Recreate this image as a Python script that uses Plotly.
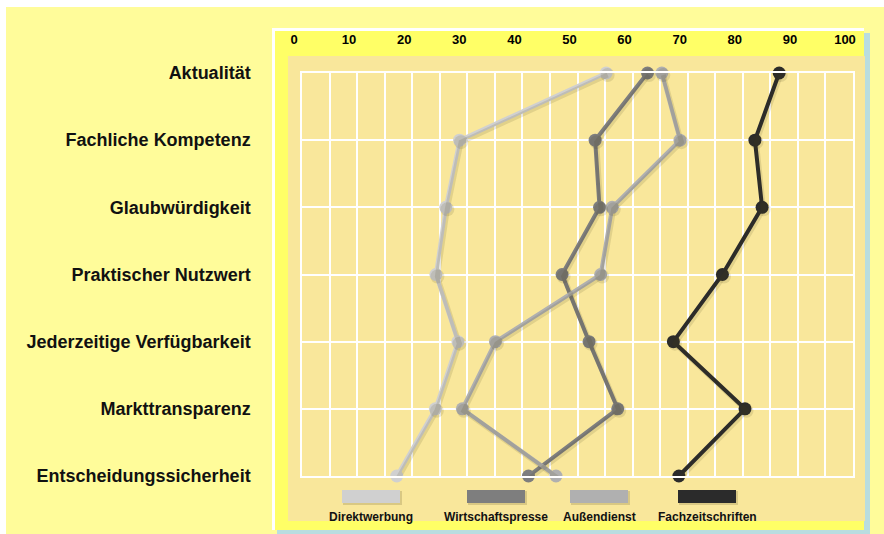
import plotly.graph_objects as go

# Survey categories (top to bottom) and ratings per information channel
categories = [
    "Aktualität",
    "Fachliche Kompetenz",
    "Glaubwürdigkeit",
    "Praktischer Nutzwert",
    "Jederzeitige Verfügbarkeit",
    "Markttransparenz",
    "Entscheidungssicherheit",
]
series_names = ["Direktwerbung", "Wirtschaftspresse", "Außendienst", "Fachzeitschriften"]
direktwerbung = [55.2, 28.6, 26.1, 24.3, 28.3, 24.2, 17.2]
wirtschaftspresse = [62.7, 53.2, 54.0, 47.2, 52.1, 57.3, 41.1]
aussendienst = [65.3, 68.6, 56.3, 54.2, 35.1, 29.1, 46.1]
fachzeitschriften = [86.6, 82.2, 83.5, 76.3, 67.4, 80.4, 68.4]
series_values = [direktwerbung, wirtschaftspresse, aussendienst, fachzeitschriften]
x_ticks = list(range(0, 101, 10))

line_colors = ["#d0d0d0", "#7e7e7e", "#b0b0b0", "#2b2b2b"]

W, H = 884, 534
ML, MR, MT, MB = 302, 31, 73, 58
PW, PH = W - ML - MR, H - MT - MB
FONT = "Liberation Sans, Arial, sans-serif"


def fx(px):
    return (px - ML) / PW


def fy(py):
    return (H - MB - py) / PH


fig = go.Figure()

# soft drop shadow: same data drawn on an overlay axis pair shifted slightly
sx = 1.5 * 100 / PW
sy = 2.0 * 6 / PH
for vals in series_values:
    fig.add_trace(go.Scatter(
        x=vals, y=categories, xaxis="x2", yaxis="y2",
        mode="lines+markers",
        line=dict(color="rgba(70,60,20,0.13)", width=5),
        marker=dict(size=14, color="rgba(70,60,20,0.13)"),
        cliponaxis=False, hoverinfo="skip", showlegend=False,
    ))

for name, vals, col in zip(series_names, series_values, line_colors):
    fig.add_trace(go.Scatter(
        x=vals, y=categories, name=name,
        mode="lines+markers",
        line=dict(color=col, width=4),
        marker=dict(size=13, color=col),
        cliponaxis=False, showlegend=False,
    ))

shapes = []


def rect(x0, y0, x1, y1, color):
    shapes.append(dict(type="rect", xref="paper", yref="paper", layer="below",
                       x0=fx(x0), x1=fx(x1), y0=fy(y1), y1=fy(y0),
                       fillcolor=color, line=dict(width=0)))


# page frame and chart panel
rect(0, 0, W, 7, "#ffffff")
rect(0, 0, 6, H, "#ffffff")
rect(277, 33, 870, H, "#b9dde0")
rect(272, 28, 864, 530, "#ffffff")
rect(275, 31, 864, 530, "#ffff66")
rect(288, 56, 865, 521, "#f9e79b")

# legend swatches with labels underneath
legend_centers = [371, 496, 599, 707]
annotations = []
for name, col, cx in zip(series_names, line_colors, legend_centers):
    shapes.append(dict(type="rect", xref="paper", yref="paper", layer="above",
                       x0=fx(cx - 28), x1=fx(cx + 31), y0=fy(505), y1=fy(491),
                       fillcolor="rgba(70,60,20,0.18)", line=dict(width=0)))
    shapes.append(dict(type="rect", xref="paper", yref="paper", layer="above",
                       x0=fx(cx - 29), x1=fx(cx + 29), y0=fy(503), y1=fy(490),
                       fillcolor=col, line=dict(width=0)))
    annotations.append(dict(text=name, xref="paper", yref="paper",
                            x=fx(cx), y=fy(517), showarrow=False,
                            xanchor="center", yanchor="middle",
                            font=dict(family=FONT, size=12, color="#111111",
                                      weight="bold")))

fig.update_layout(
    width=W, height=H,
    margin=dict(l=ML, r=MR, t=MT, b=MB, pad=0),
    paper_bgcolor="#fffc9a",
    plot_bgcolor="rgba(0,0,0,0)",
    shapes=shapes,
    annotations=annotations,
    showlegend=False,
    xaxis=dict(
        range=[0, 100], side="top", tickvals=x_ticks,
        ticktext=[str(v) for v in x_ticks],
        showgrid=True, gridcolor="#ffffff", gridwidth=1.5,
        minor=dict(dtick=5, showgrid=True, gridcolor="#ffffff", gridwidth=1.5),
        showline=True, mirror=True, linecolor="#ffffff", linewidth=1.5,
        zeroline=False, ticks="", ticklabelstandoff=22, ticklabelshift=-8,
        tickfont=dict(family=FONT, size=13, color="#000000", weight="bold"),
        fixedrange=True,
    ),
    yaxis=dict(
        type="category", categoryorder="array", categoryarray=categories,
        range=[6, 0],
        showgrid=True, gridcolor="#ffffff", gridwidth=1.5,
        showline=True, mirror=True, linecolor="#ffffff", linewidth=1.5,
        zeroline=False, ticks="", ticklabelstandoff=46,
        tickfont=dict(family=FONT, size=18, color="#111111", weight="bold"),
        fixedrange=True,
    ),
    xaxis2=dict(overlaying="x", range=[0 - sx, 100 - sx], visible=False, fixedrange=True),
    yaxis2=dict(overlaying="y", type="category", categoryorder="array",
                categoryarray=categories, range=[6 - sy, 0 - sy],
                visible=False, fixedrange=True),
)

fig.write_html("out.html")
